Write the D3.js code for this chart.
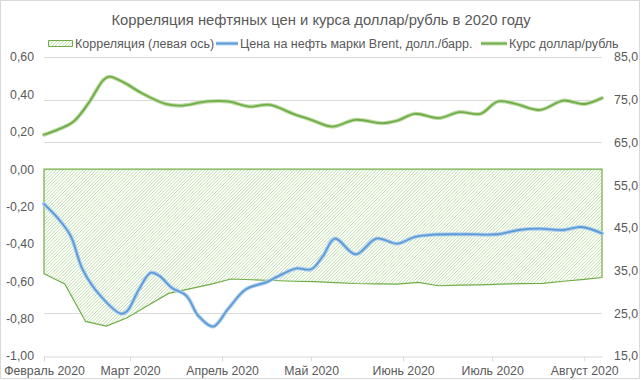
<!DOCTYPE html>
<html>
<head>
<meta charset="utf-8">
<script src="https://cdn.jsdelivr.net/npm/d3@7"></script>
<style>
  body { margin: 0; background: #fff; }
  svg text { font-family: "Liberation Sans", Arial, sans-serif; fill: #595959; }
</style>
</head>
<body>
<svg id="chart"></svg>
<script>
let width = 641;
let height = 380;

let title = 'Корреляция нефтяных цен и курса доллар/рубль в 2020 году';
let legendNames = ['Корреляция (левая ось)', 'Цена на нефть марки Brent, долл./барр.', 'Курс доллар/рубль'];

let monthDates = ['2020-02-01', '2020-03-01', '2020-04-01', '2020-05-01', '2020-06-01', '2020-07-01', '2020-08-01'];
let monthLabels = ['Февраль 2020', 'Март 2020', 'Апрель 2020', 'Май 2020', 'Июнь 2020', 'Июль 2020', 'Август 2020'];

let leftTicks = [-1, -0.8, -0.6, -0.4, -0.2, 0, 0.2, 0.4, 0.6];
let rightTicks = [15, 25, 35, 45, 55, 65, 75, 85];

// correlation, weekly
let corrDates = ['2020-02-01', '2020-02-08', '2020-02-15', '2020-02-22', '2020-02-29', '2020-03-07', '2020-03-14',
  '2020-03-21', '2020-03-28', '2020-04-04', '2020-04-11', '2020-04-18', '2020-04-25', '2020-05-02', '2020-05-09',
  '2020-05-16', '2020-05-23', '2020-05-30', '2020-06-06', '2020-06-13', '2020-06-20', '2020-06-27', '2020-07-04',
  '2020-07-11', '2020-07-18', '2020-07-25', '2020-08-01', '2020-08-07'];
let corrValues = [-0.56, -0.615, -0.815, -0.84, -0.795, -0.73, -0.665, -0.641, -0.617, -0.588, -0.592, -0.596,
  -0.60, -0.602, -0.607, -0.612, -0.614, -0.615, -0.606, -0.624, -0.621, -0.619, -0.615, -0.613, -0.611, -0.60, -0.59, -0.58];

// Brent
let brentDates = ['2020-02-01', '2020-02-06', '2020-02-10', '2020-02-14', '2020-02-20', '2020-02-27', '2020-02-29',
  '2020-03-04', '2020-03-08', '2020-03-11', '2020-03-15', '2020-03-20', '2020-03-24', '2020-03-29', '2020-04-03',
  '2020-04-09', '2020-04-16', '2020-04-20', '2020-04-26', '2020-05-01', '2020-05-05', '2020-05-09', '2020-05-16',
  '2020-05-23', '2020-05-30', '2020-06-05', '2020-06-11', '2020-06-22', '2020-07-03', '2020-07-10', '2020-07-17',
  '2020-07-25', '2020-07-31', '2020-08-07'];
let brentValues = [50.6, 47.0, 43.1, 35.3, 29.1, 24.9, 25.5, 30.6, 34.5, 33.7, 31.0, 29.1, 24.4, 21.9, 26.0,
  30.6, 32.3, 33.7, 35.5, 35.3, 38.4, 42.5, 38.8, 42.5, 41.3, 42.9, 43.4, 43.5, 43.5, 44.5, 44.8,
  44.5, 45.2, 43.7];

// USD/RUB
let usdDates = ['2020-02-01', '2020-02-06', '2020-02-11', '2020-02-16', '2020-02-21', '2020-02-23', '2020-02-28',
  '2020-03-05', '2020-03-13', '2020-03-18', '2020-03-27', '2020-04-03', '2020-04-10', '2020-04-17', '2020-04-25',
  '2020-05-01', '2020-05-08', '2020-05-16', '2020-05-25', '2020-05-30', '2020-06-05', '2020-06-13', '2020-06-20',
  '2020-06-27', '2020-07-03', '2020-07-09', '2020-07-17', '2020-07-25', '2020-08-01', '2020-08-07'];
let usdValues = [66.8, 68.1, 69.9, 74.2, 79.6, 80.4, 79.0, 76.5, 74.0, 73.6, 74.6, 74.6, 73.4, 73.8, 71.7,
  70.3, 68.7, 70.3, 69.5, 70.1, 71.7, 70.7, 72.1, 71.7, 74.6, 74.0, 72.6, 74.8, 74.0, 75.4];

let parse = d3.utcParse('%Y-%m-%d');
let svg = d3.select('#chart').attr('width', width).attr('height', height);

let xScale = d3.scaleUtc().domain([parse('2020-02-01'), parse('2020-08-07')]).range([44, 602]);
let yLeft = d3.scaleLinear().domain([-1, 0.6]).range([356, 57]);
let yRight = d3.scaleLinear().domain([15, 85]).range([356, 57]);

let comma = fmt => v => d3.format(fmt)(v).replace('.', ',').replace('−', '-');

let hatchColor = '#bddfa6';
let defs = svg.append('defs');

// hatch lines clipped to a shape
let drawHatch = (clipId, shapeD, x0, x1, y0, y1) => {
  defs.append('clipPath').attr('id', clipId).append('path').attr('d', shapeD);
  let g = svg.append('g').attr('clip-path', 'url(#' + clipId + ')');
  let h = y1 - y0;
  g.selectAll('line')
    .data(d3.range(x0 - h, x1 + 4, 3.3))
    .enter()
    .append('line')
    .attr('x1', d => d).attr('y1', y1)
    .attr('x2', d => d + h).attr('y2', y0)
    .attr('stroke', hatchColor)
    .attr('stroke-width', 1);
};

// chart border
svg.append('rect')
  .attr('x', 0.5).attr('y', 0.5)
  .attr('width', width - 2).attr('height', height - 2)
  .attr('fill', 'none').attr('stroke', '#d9d9d9');

// gridlines
svg.append('g')
  .selectAll('line')
  .data(rightTicks.filter(t => t > 15))
  .enter()
  .append('line')
  .attr('x1', 44).attr('x2', 602)
  .attr('y1', d => Math.round(yRight(d)) + 0.5)
  .attr('y2', d => Math.round(yRight(d)) + 0.5)
  .attr('stroke', '#d9d9d9');

// correlation area
let corr = corrDates.map((d, i) => ({ date: parse(d), value: corrValues[i] }));
let area = d3.area()
  .x(d => xScale(d.date))
  .y0(yLeft(0))
  .y1(d => yLeft(d.value));
let areaD = area(corr);
svg.append('path').attr('d', areaD).attr('fill', '#ffffff');
drawHatch('corrClip', areaD, xScale.range()[0], xScale.range()[1], yLeft(0), yLeft(-0.9));
svg.append('path')
  .attr('d', areaD)
  .attr('fill', 'none')
  .attr('stroke', '#70ad47')
  .attr('stroke-width', 1.2);

// lines
let drawLine = (dates, values, light, dark) => {
  let data = dates.map((d, i) => ({ date: parse(d), value: values[i] }));
  let line = d3.line()
    .x(d => xScale(d.date))
    .y(d => yRight(d.value))
    .curve(d3.curveCatmullRom.alpha(0.5));
  svg.append('path').datum(data).attr('d', line)
    .attr('fill', 'none').attr('stroke', light).attr('stroke-width', 4)
    .attr('stroke-linejoin', 'round').attr('stroke-linecap', 'round');
  svg.append('path').datum(data).attr('d', line)
    .attr('fill', 'none').attr('stroke', dark).attr('stroke-width', 1.8)
    .attr('stroke-linejoin', 'round').attr('stroke-linecap', 'round');
};
drawLine(brentDates, brentValues, '#b3d0ee', '#5b9bd5');
drawLine(usdDates, usdValues, '#bcdba6', '#70ad47');

// x axis
let xAxis = d3.axisBottom(xScale)
  .tickValues(monthDates.map(parse))
  .tickFormat((d, i) => monthLabels[i])
  .tickSize(5)
  .tickSizeOuter(0);
let gx = svg.append('g')
  .attr('transform', 'translate(0,356.5)')
  .call(xAxis);
gx.select('.domain').attr('stroke', '#d9d9d9');
gx.selectAll('.tick line').attr('stroke', '#d9d9d9');
gx.selectAll('.tick text').attr('font-size', 12.3).attr('dy', '0.9em').attr('y', 7);

// left axis
let gl = svg.append('g')
  .attr('transform', 'translate(34,0)')
  .call(d3.axisLeft(yLeft).tickValues(leftTicks).tickFormat(comma('.2f')).tickSize(0).tickPadding(0));
gl.select('.domain').remove();
gl.selectAll('text').attr('font-size', 12.3);

// right axis
let gr = svg.append('g')
  .attr('transform', 'translate(638,0)')
  .call(d3.axisLeft(yRight).tickValues(rightTicks).tickFormat(comma('.1f')).tickSize(0).tickPadding(0));
gr.select('.domain').remove();
gr.selectAll('text').attr('font-size', 12.3);

// title
svg.append('text')
  .attr('x', 321).attr('y', 25)
  .attr('text-anchor', 'middle')
  .attr('font-size', 14.8)
  .text(title);

// legend
let lg = svg.append('g');
let swatchD = 'M48.5,40.5 h24 v6 h-24 Z';
lg.append('path').attr('d', swatchD).attr('fill', '#ffffff');
drawHatch('legendClip', swatchD, 48, 73, 40, 47);
svg.append('path').attr('d', swatchD).attr('fill', 'none').attr('stroke', '#70ad47');
lg.append('text').attr('x', 75).attr('y', 48).attr('font-size', 12.5).text(legendNames[0]);

lg.append('line').attr('x1', 216).attr('x2', 238).attr('y1', 43.5).attr('y2', 43.5)
  .attr('stroke', '#b3d0ee').attr('stroke-width', 4);
lg.append('line').attr('x1', 216).attr('x2', 238).attr('y1', 43.5).attr('y2', 43.5)
  .attr('stroke', '#5b9bd5').attr('stroke-width', 1.8);
lg.append('text').attr('x', 240).attr('y', 48).attr('font-size', 12.5).text(legendNames[1]);

lg.append('line').attr('x1', 481).attr('x2', 507).attr('y1', 43.5).attr('y2', 43.5)
  .attr('stroke', '#bcdba6').attr('stroke-width', 4);
lg.append('line').attr('x1', 481).attr('x2', 507).attr('y1', 43.5).attr('y2', 43.5)
  .attr('stroke', '#70ad47').attr('stroke-width', 1.8);
lg.append('text').attr('x', 509).attr('y', 48).attr('font-size', 12.5).text(legendNames[2]);
</script>
</body>
</html>
